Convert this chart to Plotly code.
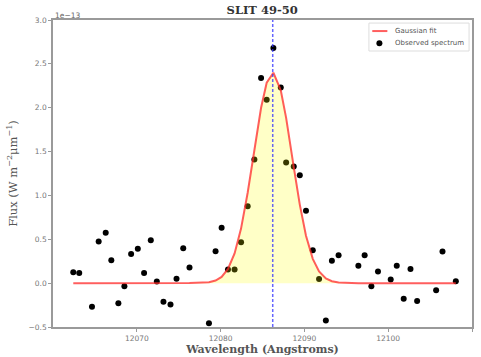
import numpy as np
import plotly.graph_objects as go

# Observed spectrum (wavelength in Angstroms, flux in 1e-13 W m^-2 um^-1)
wavelength = [12062.42, 12063.13, 12064.65, 12065.45, 12066.29, 12066.96, 12067.80, 12068.52,
              12069.32, 12070.12, 12070.87, 12071.67, 12072.39, 12073.18, 12074.02, 12074.74,
              12075.54, 12076.29, 12078.61, 12079.40, 12080.12, 12080.88, 12081.67, 12082.44,
              12083.23, 12084.03, 12084.83, 12085.50, 12086.30, 12087.18, 12087.82, 12088.73,
              12089.45, 12090.19, 12091.00, 12091.75, 12092.56, 12093.28, 12094.08, 12096.44,
              12097.19, 12097.99, 12098.78, 12100.30, 12101.02, 12101.85, 12102.66, 12103.45,
              12105.72, 12106.48, 12108.07]
flux = [0.125, 0.117, -0.27, 0.474, 0.574, 0.262, -0.228, -0.034,
        0.331, 0.391, 0.117, 0.49, 0.018, -0.213, -0.244, 0.049,
        0.399, 0.178, -0.456, 0.365, 0.631, 0.155, 0.155, 0.467,
        0.878, 1.41, 2.34, 2.09, 2.68, 2.23, 1.375, 1.33,
        1.23, 0.824, 0.374, 0.046, -0.426, 0.254, 0.319, 0.197,
        0.319, -0.034, 0.132, 0.041, 0.197, -0.179, 0.160, -0.205,
        -0.080, 0.360, 0.023]

# Gaussian fit parameters
fit_amplitude = 2.40
fit_center = 12086.22
fit_sigma = 2.3

x_range = [12060, 12110]
y_range = [-0.5, 3.0]
x_ticks = [12070, 12080, 12090, 12100, 12110]
y_ticks = [-0.5, 0.0, 0.5, 1.0, 1.5, 2.0, 2.5, 3.0]

legend_labels = ["Gaussian fit", "Observed spectrum"]

wl = np.array(wavelength)
fit = fit_amplitude * np.exp(-0.5 * ((wl - fit_center) / fit_sigma) ** 2)

RED = "rgba(255,40,40,0.75)"

fig = go.Figure()

fig.add_trace(go.Scatter(
    x=wavelength, y=flux, mode="markers", name=legend_labels[1],
    marker=dict(color="black", size=6), showlegend=False,
))
fig.add_trace(go.Scatter(
    x=wavelength, y=fit, mode="lines", fill="tozeroy",
    fillcolor="rgba(255,255,0,0.22)", line=dict(width=0),
    showlegend=False, hoverinfo="skip",
))
fig.add_trace(go.Scatter(
    x=wavelength, y=fit, mode="lines", name=legend_labels[0],
    line=dict(color=RED, width=2), showlegend=False,
))

fig.add_shape(type="line", xref="x", yref="paper", x0=fit_center, x1=fit_center, y0=0, y1=1,
              line=dict(color="rgba(50,50,255,0.75)", width=1.5, dash="3px,2px"))

# Legend box (matplotlib style)
fig.add_shape(type="rect", xref="paper", yref="paper", x0=0.754, x1=0.993, y0=0.899, y1=0.990,
              line=dict(color="#dddddd", width=1), fillcolor="rgba(255,255,255,0.85)")
fig.add_shape(type="line", xref="paper", yref="paper", x0=0.762, x1=0.798, y0=0.964, y1=0.964,
              line=dict(color=RED, width=2))
fig.add_shape(type="circle", xref="paper", yref="paper", xsizemode="pixel", ysizemode="pixel",
              xanchor=0.779, yanchor=0.924, x0=-3, x1=3, y0=-3, y1=3,
              line=dict(width=0), fillcolor="black")
for label, ypos in zip(legend_labels, [0.964, 0.924]):
    fig.add_annotation(text=label, xref="paper", yref="paper", x=0.811, y=ypos,
                       xanchor="left", yanchor="middle", showarrow=False,
                       font=dict(family="DejaVu Sans", size=7, color="#555555"))

axis_common = dict(
    showgrid=False, zeroline=False, showline=True, linecolor="#9a9a9a", linewidth=1.5,
    mirror=True, ticks="outside", ticklen=3, tickcolor="#9a9a9a",
    tickfont=dict(family="DejaVu Sans", size=7.5, color="#777777"),
)

fig.update_layout(
    width=481, height=357,
    margin=dict(l=53, r=9, t=20, b=30, autoexpand=False),
    paper_bgcolor="white", plot_bgcolor="white",
    title=dict(text="<b>SLIT 49-50</b>", x=0.545, xanchor="center", y=0.972, yanchor="middle",
               font=dict(family="DejaVu Serif", size=11.5, color="#333333")),
    xaxis=dict(range=x_range, tickvals=x_ticks, ticktext=[str(t) for t in x_ticks],
               title=dict(text="<b>Wavelength (Angstroms)</b>", standoff=4,
                          font=dict(family="DejaVu Serif", size=11, color="#555555")),
               **axis_common),
    yaxis=dict(range=y_range, tickvals=y_ticks, tickformat=".1f",
               title=dict(text="Flux (W m<sup>−2</sup>μm<sup>−1</sup>)", standoff=9,
                          font=dict(family="DejaVu Serif", size=11.5, color="#555555")),
               **axis_common),
    showlegend=False,
)

fig.add_annotation(text="1e−13", xref="paper", yref="paper", x=0, y=1, xanchor="left",
                   yanchor="bottom", showarrow=False, yshift=-2,
                   font=dict(family="DejaVu Sans", size=7.5, color="#666666"))

fig.write_html("out.html")
